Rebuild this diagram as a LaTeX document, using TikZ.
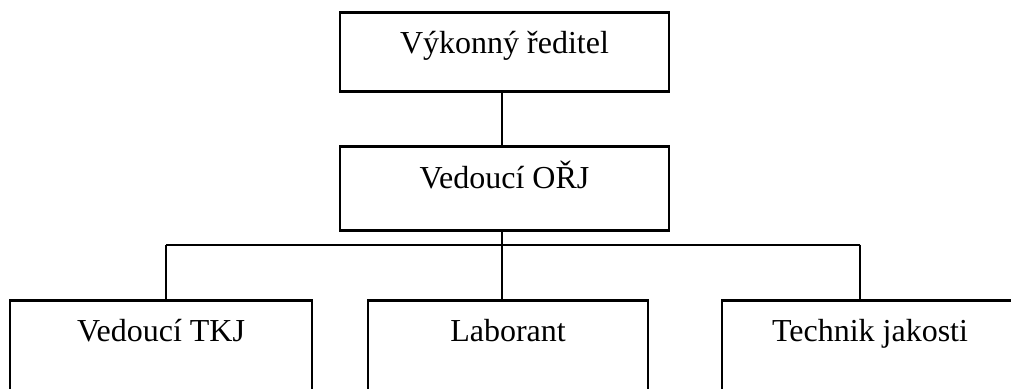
\documentclass[tikz,border=0pt]{standalone}
\usepackage{fontspec}
\setmainfont{Liberation Serif}
\usetikzlibrary{calc}
\tikzset{
	box/.style={draw, line width=1.4pt, rectangle, anchor=north, inner xsep=0pt, inner ysep=0pt, font=\fontsize{16}{19}\selectfont},
	link/.style={line width=1pt}
}

\begin{document}
\begin{tikzpicture}[x=0.5pt, y=0.5pt]
			%%%%% START %%%%%
			\useasboundingbox (0, 0) rectangle (1011, -388);
			
			\node[box, minimum width=164.5pt, text height=20.5pt, text depth=19pt] (reditel) at (504.5, -11) {Výkonný ředitel};
			\node[box, minimum width=164.5pt, text height=21pt, text depth=21pt] (orj) at (504.5, -145) {Vedoucí OŘJ};
			
			\node[box, minimum width=151pt, text height=20.5pt, text depth=34.5pt] (tkj) at (161, -299) {Vedoucí TKJ};
			\node[box, minimum width=140pt, text height=20.5pt, text depth=34.5pt] (laborant) at (508, -299) {Laborant};
			\node[box, minimum width=148pt, text height=20.5pt, text depth=34.5pt] (technik) at (870, -299) {Technik jakosti};
			
			\coordinate (busL) at (166, -244.7);
			\coordinate (busR) at (860, -244.7);
			
			\draw[link] (reditel.south -| 502, 0) -- (orj.north -| 502, 0);
			\draw[link] (orj.south -| 502, 0) -- (laborant.north -| 502, 0);
			\draw[link] (busL) -- (busR);
			\draw[link] (busL) -- (busL |- tkj.north);
			\draw[link] (busR) -- (busR |- technik.north);
			%%%%% END %%%%%
		\end{tikzpicture}
\end{document}
